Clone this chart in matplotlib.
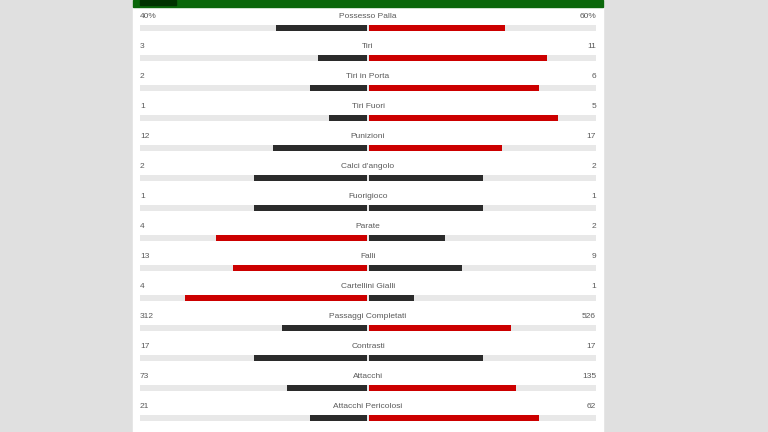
import matplotlib.pyplot as plt
import numpy as np

STATS = ["Possesso Palla", "Tiri", "Tiri in Porta", "Tiri Fuori", "Punizioni",
         "Calci d'angolo", "Fuorigioco", "Parate", "Falli", "Cartellini Gialli",
         "Passaggi Completati", "Contrasti", "Attacchi", "Attacchi Pericolosi"]
HOME = [40, 3, 2, 1, 12, 2, 1, 4, 13, 4, 312, 17, 73, 21]
AWAY = [60, 11, 6, 5, 17, 2, 1, 2, 9, 1, 526, 17, 135, 62]
HOME_LABELS = ["40%", "3", "2", "1", "12", "2", "1", "4", "13", "4", "312", "17", "73", "21"]
AWAY_LABELS = ["60%", "11", "6", "5", "17", "2", "1", "2", "9", "1", "526", "17", "135", "62"]

RED = "#cc0000"
DARK = "#2b2b2b"
TRACK = "#e8e8e8"
TXT = "#5a5a5a"

fig = plt.figure(figsize=(7.68, 4.32), dpi=100, facecolor="#e0e0e0")
ax = fig.add_axes([0, 0, 1, 1])
ax.set_xlim(0, 768)
ax.set_ylim(432, 0)
ax.axis("off")

# white panel + green header strip
ax.add_patch(plt.Rectangle((133, 0), 470, 432, color="white", zorder=0))
ax.add_patch(plt.Rectangle((133, 0), 470, 7, color="#0a670a", zorder=1))
ax.add_patch(plt.Rectangle((140, 0), 36, 4.5, color="#003300", zorder=2))

center, half = 368, 228
home = np.array(HOME, float)
away = np.array(AWAY, float)
tot = home + away
hl = home / tot * (half - 1)
al = away / tot * (half - 1)
hcol = [RED if h > a else DARK for h, a in zip(home, away)]
acol = [RED if a > h else DARK for h, a in zip(home, away)]

ybar = 28 + 30 * np.arange(len(STATS))
ytxt = ybar - 11

ax.barh(ybar, 2 * half, left=center - half, height=6, color=TRACK, zorder=2)
ax.barh(ybar, -hl, left=center - 1, height=6, color=hcol, zorder=3)
ax.barh(ybar, al, left=center + 1, height=6, color=acol, zorder=3)

fnt = dict(fontsize=6.0, color=TXT, family="Liberation Sans", va="center")
for y, name, hlab, alab in zip(ytxt, STATS, HOME_LABELS, AWAY_LABELS):
    ax.text(140, y, hlab, ha="left", **fnt)
    ax.text(center, y, name, ha="center", **fnt)
    ax.text(596, y, alab, ha="right", **fnt)

fig.savefig("out.png", dpi=100, facecolor=fig.get_facecolor())
